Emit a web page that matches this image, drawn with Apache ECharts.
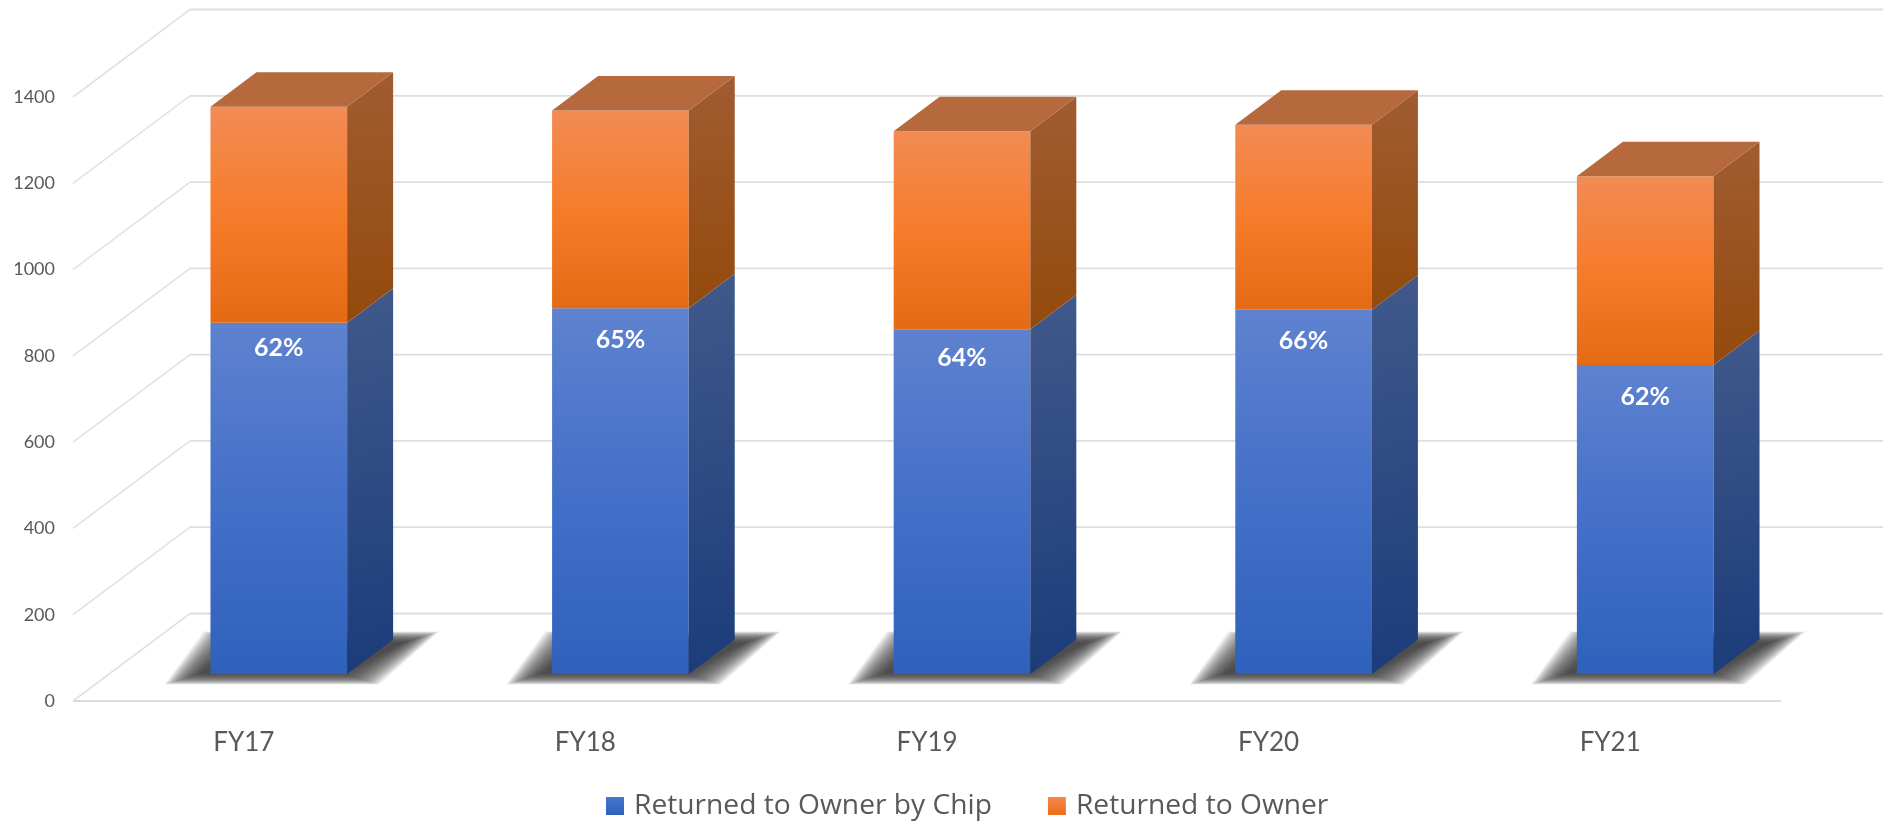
<!DOCTYPE html>
<html>
<head>
<meta charset="utf-8">
<style>html,body{margin:0;padding:0;background:#fff}#c{width:1883px;height:822px}</style>
<script src="https://cdn.jsdelivr.net/npm/echarts@6/dist/echarts.min.js"></script>
</head>
<body>
<div id="c"></div>
<script>
// ---- data ----
const categories = ['FY17', 'FY18', 'FY19', 'FY20', 'FY21'];
const returnedByChip = [814, 848, 799, 844, 716];
const returnedOther = [501, 458, 459, 429, 438];
const shareLabels = ['62%', '65%', '64%', '66%', '62%'];
const valueTicks = [0, 200, 400, 600, 800, 1000, 1200, 1400];
const seriesNames = ['Returned to Owner by Chip', 'Returned to Owner'];

// ---- 3D projection and styling ----
const WALL = { dx: 117, dy: -87.5 };
const BAR_FRONT = { dx: 35, dy: -27 };
const BAR_DEPTH = { dx: 46, dy: -34.5 };
const BAR_WIDTH_RATIO = 0.4;
const LABEL_DROP = { FY17: 25, FY18: 32, FY19: 29, FY20: 31, FY21: 32 };
const SHADOW_LAYERS = 24;
const vgrad = (stops) => ({
  type: 'linear', x: 0, y: 0, x2: 0, y2: 1,
  colorStops: stops.map((c) => ({ offset: c[0], color: c[1] }))
});
const dgrad = (stops) => ({
  type: 'linear', x: 0, y: 0, x2: 1, y2: 1,
  colorStops: stops.map((c) => ({ offset: c[0], color: c[1] }))
});
const SKIN = [
  {
    front: vgrad([[0, '#5e82cf'], [0.5, '#4470c8'], [1, '#2f61bc']]),
    side: dgrad([[0, '#41598b'], [1, '#1b3c7a']]),
    legend: vgrad([[0, '#4a76cc'], [1, '#2f61bc']])
  },
  {
    front: vgrad([[0, '#f28b54'], [0.5, '#f67c2b'], [1, '#e46a14']]),
    side: vgrad([[0, '#a05c32'], [1, '#944a0c']]),
    top: '#b5693d',
    legend: vgrad([[0, '#f58a48'], [1, '#e96f1a']])
  }
];
const poly = (points, fill, extra) => ({
  type: 'polygon', shape: { points }, style: Object.assign({ fill }, extra || {})
});

function renderWall(params, api) {
  const v = api.value(1);
  const cs = params.coordSys;
  const y = api.coord([0, v])[1];
  const x0 = cs.x, x1 = x0 + WALL.dx, yb = y + WALL.dy;
  const children = [
    { type: 'line', shape: { x1: x0, y1: y, x2: x1, y2: yb }, style: { stroke: '#e2e2e2', lineWidth: 1.6 } },
    { type: 'line', shape: { x1, y1: yb, x2: api.getWidth(), y2: yb }, style: { stroke: '#dedede', lineWidth: 1.8 } }
  ];
  if (v === 0) {
    children.push({ type: 'line', shape: { x1: x0, y1: y, x2: cs.x + cs.width, y2: y }, style: { stroke: '#dcdcdc', lineWidth: 2 } });
  }
  return { type: 'group', children };
}

// soft floor shadow: nested translucent parallelograms that tighten towards the core
function shadowLayers(xL, xR, yB) {
  const out = [];
  for (let k = 0; k < SHADOW_LAYERS; k++) {
    const e = SHADOW_LAYERS - 1 - k;
    const ex = e * 1.6, ey = e * 0.5;
    out.push(poly(
      [[xL - 9 - ex, yB - 1 + ey], [xR - 5 + ex, yB - 1 + ey], [xR + 55 + ex, yB - 31 - ey], [xL + 30 - ex, yB - 31 - ey]],
      'rgba(60,58,58,0.085)'
    ));
  }
  return out;
}

function makeBarRenderer(stackIndex) {
  return function (params, api) {
    const i = api.value(0), lo = api.value(1), hi = api.value(2);
    const half = api.size([1, 0])[0] * BAR_WIDTH_RATIO / 2;
    const pLo = api.coord([i, lo]), pHi = api.coord([i, hi]);
    const xL = pLo[0] + BAR_FRONT.dx - half, xR = pLo[0] + BAR_FRONT.dx + half;
    const yB = pLo[1] + BAR_FRONT.dy, yT = pHi[1] + BAR_FRONT.dy;
    const dx = BAR_DEPTH.dx, dy = BAR_DEPTH.dy;
    const skin = SKIN[stackIndex];
    let children = [];
    if (stackIndex === 0) children = children.concat(shadowLayers(xL, xR, yB));
    children.push(poly([[xL, yB], [xR, yB], [xR, yT], [xL, yT]], skin.front));
    children.push(poly([[xR, yB], [xR + dx, yB + dy], [xR + dx, yT + dy], [xR, yT]], skin.side));
    if (skin.top) {
      children.push(poly([[xL, yT], [xR, yT], [xR + dx, yT + dy], [xL + dx, yT + dy]], skin.top));
    }
    if (stackIndex === 0) {
      children.push({
        type: 'text',
        style: {
          x: (xL + xR) / 2, y: yT + LABEL_DROP[categories[i]],
          text: shareLabels[i], fill: '#ffffff',
          font: 'bold 25px Lato', align: 'center', verticalAlign: 'middle'
        }
      });
    }
    return { type: 'group', children };
  };
}

const chart = echarts.init(document.getElementById('c'), null, { renderer: 'canvas' });
chart.setOption({
  animation: false,
  backgroundColor: '#ffffff',
  grid: { left: 73, right: 102, top: 97, bottom: 121 },
  xAxis: {
    type: 'category', data: categories,
    axisLine: { show: false }, axisTick: { show: false }, splitLine: { show: false },
    axisLabel: { color: '#595959', fontFamily: 'Lato', fontSize: 26, margin: 29 }
  },
  yAxis: {
    type: 'value', min: 0, max: 1400, interval: 200,
    axisLine: { show: false }, axisTick: { show: false }, splitLine: { show: false },
    axisLabel: {
      color: '#595959', fontFamily: 'Lato', fontSize: 18, margin: 18,
      padding: [2, 0, 0, 0], formatter: (v) => String(v)
    }
  },
  legend: {
    data: seriesNames, left: 606, top: 792, padding: 0, itemWidth: 18, itemHeight: 18, itemGap: 56, icon: 'rect',
    textStyle: { color: '#595959', fontFamily: 'Open Sans', fontSize: 28.2, padding: [0, 0, 0, 5] }
  },
  series: [
    {
      name: 'walls', type: 'custom', renderItem: renderWall, z: 1, silent: true,
      encode: { x: 0, y: 1 },
      data: valueTicks.map((v) => [0, v])
    },
    {
      name: seriesNames[0], type: 'custom', renderItem: makeBarRenderer(0), z: 2,
      itemStyle: { color: SKIN[0].legend },
      encode: { x: 0, y: [1, 2] },
      data: categories.map((c, i) => [i, 0, returnedByChip[i]])
    },
    {
      name: seriesNames[1], type: 'custom', renderItem: makeBarRenderer(1), z: 3,
      itemStyle: { color: SKIN[1].legend },
      encode: { x: 0, y: [1, 2] },
      data: categories.map((c, i) => [i, returnedByChip[i], returnedByChip[i] + returnedOther[i]])
    }
  ]
});
</script>
</body>
</html>
